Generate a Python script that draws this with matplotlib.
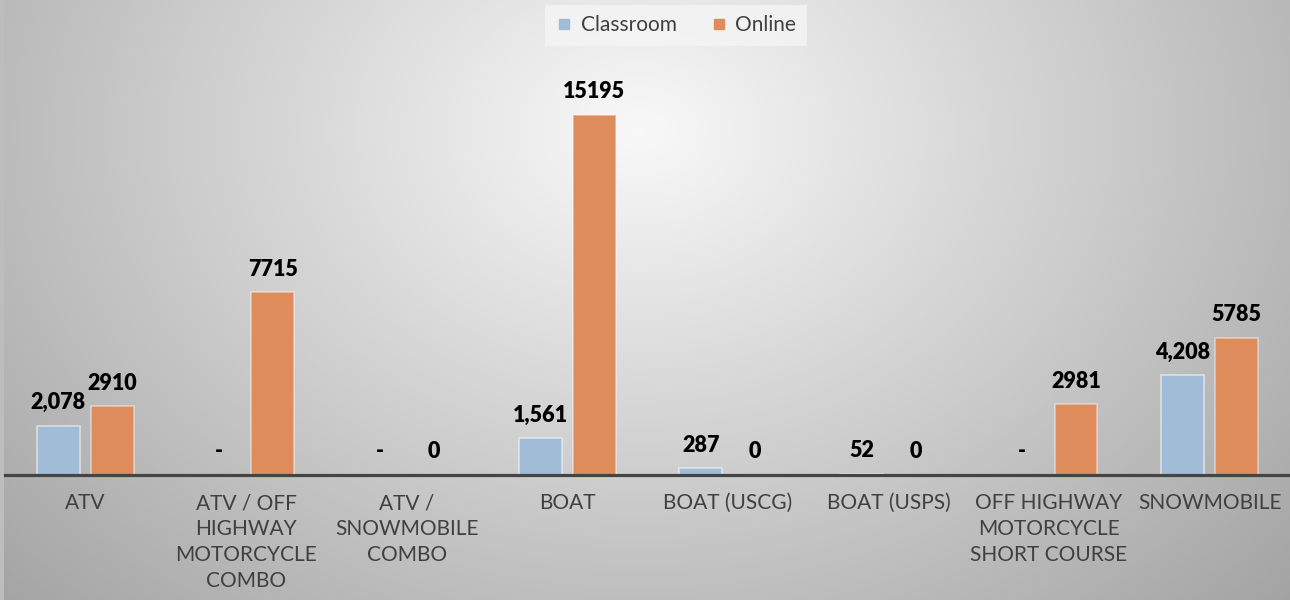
import numpy as np
import matplotlib
matplotlib.use("Agg")
import matplotlib.pyplot as plt
from matplotlib.lines import Line2D
from matplotlib.patches import Rectangle

categories = ["ATV", "ATV / OFF\nHIGHWAY\nMOTORCYCLE\nCOMBO", "ATV /\nSNOWMOBILE\nCOMBO",
              "BOAT", "BOAT (USCG)", "BOAT (USPS)", "OFF HIGHWAY\nMOTORCYCLE\nSHORT COURSE",
              "SNOWMOBILE"]
classroom = [2078, 0, 0, 1561, 287, 52, 0, 4208]
online = [2910, 7715, 0, 15195, 0, 0, 2981, 5785]
series_names = ["Classroom", "Online"]

c_blue = "#a0bcd6"
c_orange = "#df8c5c"
txt = "#404040"
font = "Lato"

W, H = 1290, 600
fig = plt.figure(figsize=(W / 100, H / 100), dpi=100)

# radial gradient background
bg = fig.add_axes([0, 0, 1, 1], zorder=0)
yy, xx = np.mgrid[0:H, 0:W]
r = np.sqrt(((xx - 640) / 900.0) ** 2 + ((yy - 130) / 700.0) ** 2)
val = np.clip(0.975 - 0.34 * r, 0, 1)
bg.imshow(np.dstack([val, val, val]), aspect="auto", extent=[0, W, H, 0])
bg.add_patch(Rectangle((0, 0), 4, H, color="#bdbdbd", lw=0))
bg.set_xlim(0, W)
bg.set_ylim(H, 0)
bg.axis("off")

ymax = 18000
base_px = 475
top_px = base_px - 360 / 15195 * ymax
ax = fig.add_axes([5 / W, (H - base_px) / H, 1 - 5 / W, (base_px - top_px) / H], zorder=1)
ax.set_facecolor("none")

x = np.arange(len(categories))
bw = 0.267
off = 0.168
b1 = ax.bar(x - off, classroom, bw, color=c_blue, edgecolor=(1, 1, 1, 0.55), linewidth=1.2)
b2 = ax.bar(x + off, online, bw, color=c_orange, edgecolor=(1, 1, 1, 0.45), linewidth=1.2)

for xi, v in zip(x, classroom):
    lab = f"{v:,}" if v else "-"
    ax.annotate(lab, (xi - off, v), xytext=(0, 9), textcoords="offset points",
                ha="center", va="bottom", fontsize=15.5, fontweight="heavy",
                family=font, color="black")
for xi, v in zip(x, online):
    ax.annotate(f"{v}", (xi + off, v), xytext=(0, 9), textcoords="offset points",
                ha="center", va="bottom", fontsize=15.5, fontweight="heavy",
                family=font, color="black")

ax.set_xlim(-0.5, len(categories) - 0.5)
ax.set_ylim(0, ymax)
ax.set_yticks([])
ax.set_xticks(x)
ax.set_xticklabels(categories, fontsize=15, family=font, color=txt, linespacing=1.38)
ax.tick_params(axis="x", length=0, pad=13)
for s in ["top", "left", "right"]:
    ax.spines[s].set_visible(False)
ax.spines["bottom"].set_color("#454545")
ax.spines["bottom"].set_linewidth(2.3)

handles = [Line2D([], [], marker="s", linestyle="none", markersize=7, color=c_blue),
           Line2D([], [], marker="s", linestyle="none", markersize=7, color=c_orange)]
leg = fig.legend(handles, series_names, loc="upper center", bbox_to_anchor=(676 / W, 1 - 5 / H),
                 ncol=2, frameon=True, fancybox=False, facecolor="#f5f5f5", edgecolor="none",
                 prop={"family": font, "size": 15}, handlelength=0.8, handletextpad=0.4,
                 columnspacing=1.6, borderpad=0.5, borderaxespad=0)
leg.get_frame().set_alpha(0.8)
for t in leg.get_texts():
    t.set_color(txt)

fig.savefig("out.png", dpi=100)
